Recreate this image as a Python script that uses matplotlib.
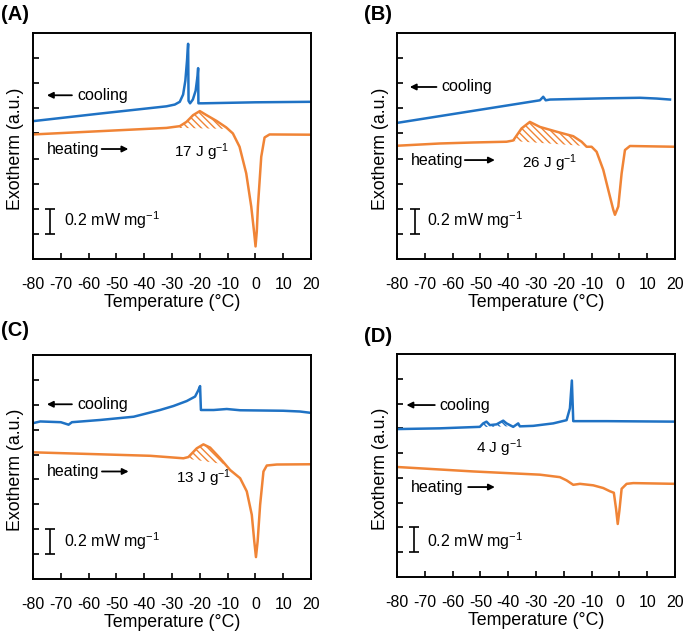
import matplotlib.pyplot as plt

plt.rcParams['font.family'] = ['Liberation Sans', 'DejaVu Sans']
plt.rcParams['mathtext.fontset'] = 'custom'
plt.rcParams['mathtext.rm'] = 'Liberation Sans'
plt.rcParams['mathtext.it'] = 'Liberation Sans:italic'
plt.rcParams['mathtext.default'] = 'regular'
plt.rcParams['axes.unicode_minus'] = False
plt.rcParams['hatch.linewidth'] = 1.0

BLUE = '#1f72c4'
ORANGE = '#f08436'

# ====== data (temperature in degC, signal in arbitrary units; 1 unit = 0.2 mW/mg) ======
# Panel A
a_cool_t = [-80, -56, -32, -29, -27.2, -26, -25.2, -24.6, -24.2, -24.05, -23.5, -22.5, -21.5, -20.8, -20.6, -20.5, -19, 0, 20]
a_cool_y = [5.49, 5.79, 6.08, 6.15, 6.26, 6.55, 7.1, 7.9, 8.57, 6.3, 6.2, 6.35, 6.7, 7.3, 7.6, 6.2, 6.2, 6.24, 6.26]
a_heat_t = [-80, -56, -32, -27.2, -24.8, -22.4, -20, -17.6, -14, -10.5, -8.1, -5.7, -3.3, -1.5, -0.5, 0.05, 0.5, 0.9, 2.1, 3.3, 5.1, 20]
a_heat_y = [4.96, 5.09, 5.22, 5.29, 5.46, 5.73, 5.89, 5.73, 5.5, 5.24, 5.0, 4.47, 3.41, 2.09, 1.1, 0.5, 1.1, 2.09, 4.07, 4.84, 4.96, 4.95]
a_area = "17 J g$^{−1}$"

# Panel B
b_cool_t = [-80, -28.6, -27.4, -26.5, -25, -4.6, 7.4, 13.4, 18.2]
b_cool_y = [5.42, 6.32, 6.46, 6.32, 6.35, 6.4, 6.42, 6.39, 6.35]
b_heat_t = [-80, -64.6, -52.6, -40.6, -38.2, -35.2, -32.2, -28.6, -22.6, -16.6, -13.6, -11.8, -10, -8.2, -5.8, -4, -2.2,
            -1.6, -0.4, 0.8, 2, 3.8, 20]
b_heat_y = [4.51, 4.6, 4.64, 4.67, 4.72, 5.2, 5.46, 5.26, 5.07, 4.89, 4.67, 4.47, 4.47, 4.27, 3.55, 2.75, 1.96,
            1.76, 2.09, 3.41, 4.34, 4.5, 4.47]
b_area = "26 J g$^{−1}$"

# Panel C
c_cool_t = [-80, -77.4, -70, -67.2, -66, -55.8, -43.8, -34.3, -29.5, -24.7, -21.7, -20.5, -19.9, -19.6, -15, -10.3, -5.5, 10, 16, 19.6]
c_cool_y = [6.26, 6.33, 6.3, 6.2, 6.3, 6.39, 6.52, 6.79, 6.95, 7.15, 7.33, 7.59, 7.75, 6.79, 6.79, 6.83, 6.78, 6.76, 6.73, 6.68]
c_heat_t = [-80, -55.8, -37.8, -25.9, -24.1, -21.1, -18.7, -16.3, -12.7, -9.1, -5.5, -3.1, -1.3, -0.4, 0.2, 0.8, 1.7, 2.9,
            4.1, 7.7, 20]
c_heat_y = [5.09, 5.01, 4.95, 4.85, 4.9, 5.25, 5.41, 5.28, 4.85, 4.38, 4.05, 3.52, 2.58, 1.51, 0.88, 1.51, 2.98, 4.32,
            4.56, 4.6, 4.61]
c_area = "13 J g$^{−1}$"

# Panel D
d_cool_t = [-80, -64.6, -50.2, -49, -47.8, -46.6, -44.2, -41.8, -40.6, -38.2, -36.4, -35.8, -31, -23.8, -19, -17.8, -17.1,
            -16.6, -4.6, 20]
d_cool_y = [5.97, 6.0, 6.06, 6.2, 6.27, 6.13, 6.16, 6.31, 6.2, 6.06, 6.2, 6.08, 6.1, 6.2, 6.33, 6.81, 7.93,
            6.29, 6.29, 6.27]
d_heat_t = [-80, -52.6, -28.6, -21.4, -19, -16.6, -14.2, -9.4, -5.8, -3.4, -2, -1.2, -0.6, 0, 0.8, 2.6, 5, 20]
d_heat_y = [4.44, 4.26, 4.13, 4.03, 3.9, 3.72, 3.76, 3.7, 3.59, 3.46, 3.4, 2.75, 2.14, 2.68, 3.56, 3.76, 3.79, 3.76]
d_area = "4 J g$^{−1}$"

# hatched (integrated) regions: curve, T range, baseline at start/end
a_hatch = ('heat', -27.5, -9.5, 5.22, 5.18)
b_hatch = ('heat', -38.5, -12.5, 4.7, 4.5)
c_hatch = ('heat', -25.5, -10.5, 4.85, 4.6)
d_hatch = ('cool', -50.5, -36.0, 6.05, 6.09)

panels = [
    dict(tag='(A)', cool=(a_cool_t, a_cool_y), heat=(a_heat_t, a_heat_y), hatch=a_hatch, area=a_area,
         area_xy=(-19.4, 4.27), cool_y=6.52, heat_y=4.38, heat_arrow=(-55.3, -45.7), cool_arrow=(-66, -75),
         cool_txt=-64, bar_x=-73.8, bar_txt=(-69, 1.56)),
    dict(tag='(B)', cool=(b_cool_t, b_cool_y), heat=(b_heat_t, b_heat_y), hatch=b_hatch, area=b_area,
         area_xy=(-25, 3.81), cool_y=6.85, heat_y=3.94, heat_arrow=(-55.6, -44.8), cool_arrow=(-65.8, -75.4),
         cool_txt=-64, bar_x=-73.6, bar_txt=(-69.2, 1.53)),
    dict(tag='(C)', cool=(c_cool_t, c_cool_y), heat=(c_heat_t, c_heat_y), hatch=c_hatch, area=c_area,
         area_xy=(-18.7, 4.05), cool_y=7.02, heat_y=4.32, heat_arrow=(-55.2, -45.6), cool_arrow=(-66, -75),
         cool_txt=-64.2, bar_x=-73.8, bar_txt=(-69, 1.51)),
    dict(tag='(D)', cool=(d_cool_t, d_cool_y), heat=(d_heat_t, d_heat_y), hatch=d_hatch, area=d_area,
         area_xy=(-43, 5.18), cool_y=6.94, heat_y=3.63, heat_arrow=(-54.4, -44.8), cool_arrow=(-66.4, -76.6),
         cool_txt=-64.6, bar_x=-74, bar_txt=(-69.2, 1.45)),
]

W, H = 685, 633
boxes = [(33, 33, 311, 259), (397, 33, 675, 259), (33, 355, 311, 579), (397, 354, 675, 577)]
tag_pos = [(1, 15), (364, 15), (1, 330), (364, 337)]

fig = plt.figure(figsize=(W / 100, H / 100), dpi=100)

for p, (x0, y0, x1, y1), (tx, ty) in zip(panels, boxes, tag_pos):
    ax = fig.add_axes([x0 / W, 1 - y1 / H, (x1 - x0) / W, (y1 - y0) / H])
    ct, cy = p['cool']
    ht, hy = p['heat']
    ax.plot(ct, cy, color=BLUE, lw=1.8, solid_joinstyle='round')
    ax.plot(ht, hy, color=ORANGE, lw=1.8, solid_joinstyle='round')

    # hatched area between curve and straight baseline
    which, t0, t1, b0, b1 = p['hatch']
    tt, yy = (ht, hy) if which == 'heat' else (ct, cy)
    col = ORANGE if which == 'heat' else BLUE
    xs = [t0] + [t for t in tt if t0 < t < t1] + [t1]
    ys_curve = [b0] + [y for t, y in zip(tt, yy) if t0 < t < t1] + [b1]
    ys_base = [b0 + (b1 - b0) * (x - t0) / (t1 - t0) for x in xs]
    ax.fill_between(xs, ys_base, ys_curve, where=[c >= b for c, b in zip(ys_curve, ys_base)],
                    facecolor='none', edgecolor=col, hatch='\\\\\\\\\\', linewidth=0, interpolate=True)

    ax.text(*p['area_xy'], p['area'], fontsize=11, ha='center', va='center')

    # cooling / heating labels with arrows
    ax.annotate('', xy=(p['cool_arrow'][1], p['cool_y']), xytext=(p['cool_arrow'][0], p['cool_y']),
                arrowprops=dict(arrowstyle='-|>', color='k', lw=1.3, mutation_scale=9, shrinkA=0, shrinkB=0))
    ax.text(p['cool_txt'], p['cool_y'], 'cooling', fontsize=11.5, va='center', ha='left')
    ax.text(-75, p['heat_y'], 'heating', fontsize=11.5, va='center', ha='left')
    ax.annotate('', xy=(p['heat_arrow'][1], p['heat_y']), xytext=(p['heat_arrow'][0], p['heat_y']),
                arrowprops=dict(arrowstyle='-|>', color='k', lw=1.3, mutation_scale=9, shrinkA=0, shrinkB=0))

    # scale bar: 1 unit = 0.2 mW/mg
    ax.errorbar([p['bar_x']], [1.5], yerr=[0.5], color='k', lw=1.2, capsize=3.5, capthick=1.2)
    ax.text(*p['bar_txt'], '0.2 mW mg$^{−1}$', fontsize=11.5, va='center', ha='left')

    ax.set_xlim(-80, 20)
    ax.set_ylim(0, 9)
    ax.set_xticks(range(-80, 21, 10))
    ax.set_xticklabels([str(v) for v in range(-80, 21, 10)])
    ax.set_yticks(range(1, 9))
    ax.set_yticklabels([])
    ax.tick_params(direction='in', length=4, width=1.2, labelsize=11.5, pad=13, top=False, right=False)
    for s in ax.spines.values():
        s.set_linewidth(1.4)
    ax.set_xlabel('Temperature (°C)', fontsize=12.8, labelpad=1.5)
    ax.set_ylabel('Exotherm (a.u.)', fontsize=12.8, va='center')
    ax.yaxis.set_label_coords(-17 / (x1 - x0), 0.487)

    fig.text(tx / W, 1 - ty / H, p['tag'], fontsize=14.5, fontweight='bold', ha='left', va='center')

fig.savefig('out.png', dpi=100)
